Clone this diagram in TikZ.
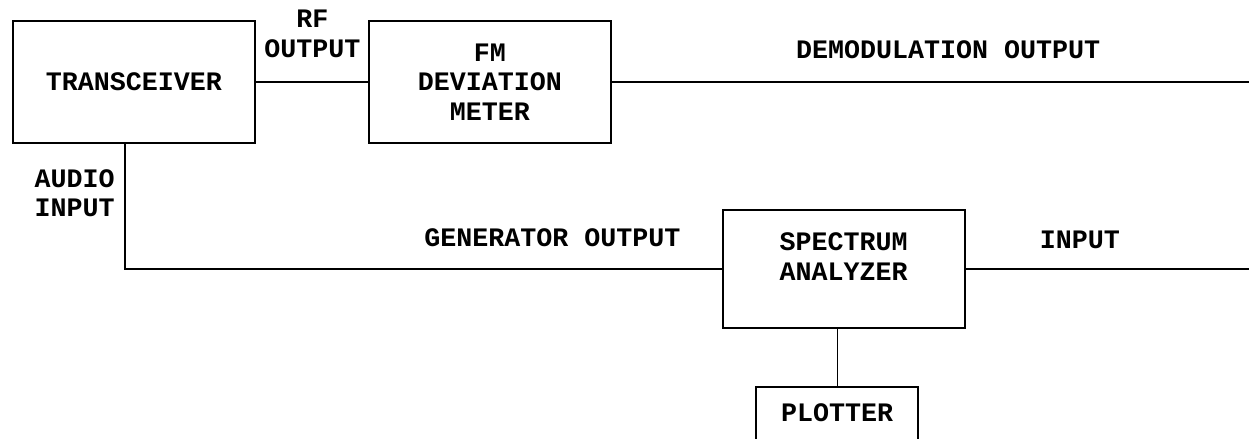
\documentclass[tikz,border=0pt]{standalone}
\usepackage{fontspec}
\newfontfamily\typewr{Liberation Mono}
\usetikzlibrary{positioning,calc}
\newcommand{\diafont}{\typewr\bfseries\fontsize{16}{17.7}\selectfont}
\tikzset{
  box/.style={rectangle, draw=black, line width=1.1pt, align=center, inner sep=0pt,
              font=\diafont, minimum width=145.2pt, minimum height=73.2pt},
  lbl/.style={inner sep=0pt, align=center, font=\diafont},
  wire/.style={draw=black, line width=1.1pt},
  thinwire/.style={draw=black, line width=0.7pt}
}

\begin{document}
\begin{tikzpicture}
  \useasboundingbox (0,0) rectangle (749.4pt,-262.8pt);
  \node[box] (trx) at (80.4pt,-49.2pt) {TRANSCEIVER};
  \node[box, right=67.2pt of trx] (fm) {FM\\DEVIATION\\METER};
  \node[box, minimum height=70.8pt, below right=39pt and 66pt of fm] (sa)
    {SPECTRUM\\ANALYZER\rule[-14.6pt]{0pt}{14.6pt}};
  \node[box, minimum width=97.2pt, minimum height=0pt, inner ysep=10pt, text depth=45pt,
        below=34.2pt of sa, xshift=-3.9pt] (plot) {PLOTTER};
  % end points at the right edge
  \coordinate[right=384.6pt of fm.east] (demodout);
  \coordinate[right=173.4pt of sa.east] (saout);
  \coordinate (tap) at ([xshift=-5.4pt]trx.south);
  % wires
  \draw[wire] (trx) -- (fm);
  \draw[wire] (fm) -- (demodout);
  \draw[wire] (tap) |- (sa.west);
  \draw[wire] (sa.east) -- (saout);
  \draw[thinwire] (sa.south -| plot.north) -- (plot.north);
  % labels
  \node[lbl, above right=14.4pt and 4.8pt of trx.east] (rfout) {RF\\OUTPUT};
  \node[lbl, above right=13.5pt and 110.4pt of fm.east] (demod) {DEMODULATION OUTPUT};
  \node[lbl, align=right, below left=15pt and 6pt of tap] (audin) {AUDIO\\INPUT};
  \node[lbl, above left=13.2pt and 24.6pt of sa.west] (genout) {GENERATOR OUTPUT};
  \node[lbl, above right=12pt and 44.4pt of sa.east] (sain) {INPUT};
\end{tikzpicture}
\end{document}
